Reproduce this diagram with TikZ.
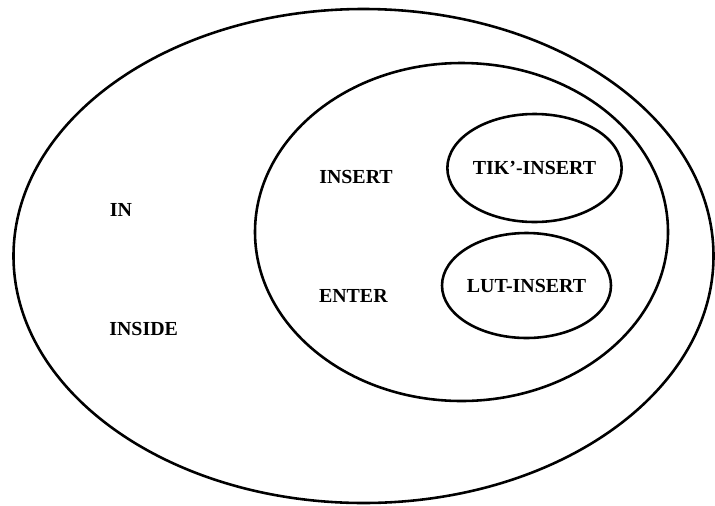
\documentclass[tikz,border=0pt]{standalone}
\usepackage{fontspec}
\setmainfont{Liberation Serif}
\usetikzlibrary{shapes.geometric}

\begin{document}
\begin{tikzpicture}[
  font=\fontsize{17}{20}\selectfont\bfseries, line width=2.2pt,
  set/.style={draw, ellipse, inner sep=0pt},
  word/.style={inner sep=1pt}]
\useasboundingbox (0,0) rectangle (21.45,-15.15);
% the nested sets
\node[set, minimum width=21cm, minimum height=14.82cm] (outer) at (10.905,-7.68) {};
\node[set, minimum width=12.39cm, minimum height=10.14cm] (mid) at (13.845,-6.96) {};
\node[set, minimum width=5.13cm, minimum height=3.24cm] (tik) at (16.035,-5.04) {TIK'-INSERT};
\node[set, minimum width=5.07cm, minimum height=3.15cm] (lut) at (15.795,-8.565) {LUT-INSERT};
% words
\node[word] (in) at (3.63,-6.3) {IN};
\node[word] (inside) at (4.31,-9.87) {INSIDE};
\node[word] (insert) at (10.68,-5.30) {INSERT};
\node[word] (enter) at (10.6,-8.88) {ENTER};
\end{tikzpicture}
\end{document}
